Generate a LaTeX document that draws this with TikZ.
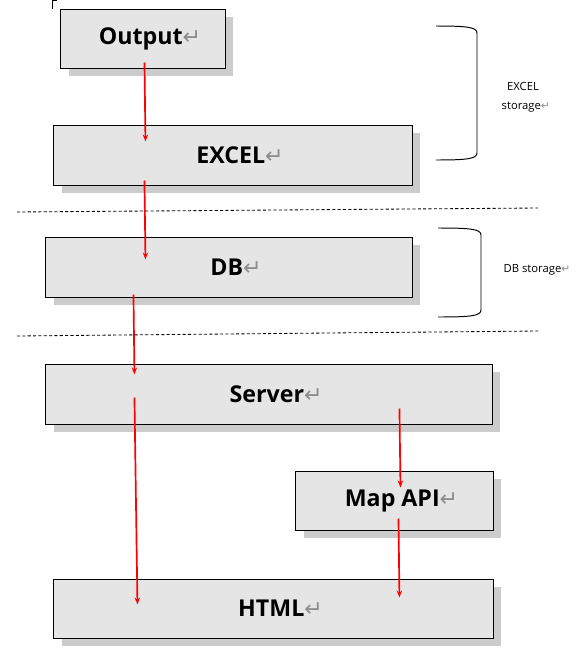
\documentclass[tikz,border=0pt]{standalone}
\usepackage{fontspec}
\setmainfont{Open Sans}
\newfontfamily\retfont{DejaVu Sans}
\usepackage{xcolor}
\usepackage{tikz}
\usetikzlibrary{arrows.meta, calc, shadows}

\newcommand\retmark{{\retfont\mdseries\color{black!45}\scalebox{0.95}{↵}}}

\begin{document}
\begin{tikzpicture}[
  x=0.025cm, y=-0.025cm,
  blk/.style  = {draw, line width=0.7pt, fill=gray!20, align=center,
                 font=\fontsize{16.5}{19}\selectfont\bfseries,
                 execute at begin node={\hspace*{10pt}},
                 drop shadow={shadow xshift=5.5pt, shadow yshift=-5.5pt,
                              fill=black!40}},
  flow/.style = {-{Stealth[length=5pt, width=3.8pt]}, red, line width=1.2pt},
  sep/.style  = {dash pattern=on 2.2pt off 1.6pt, line width=0.6pt},
  brace/.style= {line width=0.7pt},
  note/.style = {font=\fontsize{8}{9.5}\selectfont, align=center}
]
  \useasboundingbox (0,0) rectangle (576,665);

  % storage layers
  \node[blk, minimum width=4.1cm,   minimum height=1.475cm] (out)  at (143,38.5)  {Output\retmark};
  \node[blk, minimum width=8.95cm,  minimum height=1.5cm]   (xls)  at (233,155)   {EXCEL\retmark};
  \node[blk, minimum width=9.15cm,  minimum height=1.5cm]   (db)   at (229,267)   {DB\retmark};
  % service layers
  \node[blk, minimum width=11.15cm, minimum height=1.5cm]   (srv)  at (269,394)   {Server\retmark};
  \node[blk, minimum width=4.925cm, minimum height=1.475cm] (map)  at (394.5,500.5) {Map API\retmark};
  \node[blk, minimum width=10.975cm,minimum height=1.475cm] (html) at (273.5,608.5) {HTML\retmark};

  \draw[flow] ([shift={(84,-6)}]out.south west)   -- ([shift={(92,17)}]xls.north west);
  \draw[flow] ([shift={(91,-5)}]xls.south west)   -- ([shift={(100,23)}]db.north west);
  \draw[flow] ([shift={(88,-3)}]db.south west)    -- ([shift={(89,11)}]srv.north west);
  \draw[flow] ([shift={(89,34)}]srv.north west)   -- ([shift={(84,26)}]html.north west);
  \draw[flow] ([shift={(354,-16)}]srv.south west) -- ([shift={(105,17)}]map.north west);
  \draw[flow] ([shift={(103,-12)}]map.south west) -- ([shift={(346,19)}]html.north west);

  % layer borders
  \draw[sep] (17,212) -- (538,208);
  \draw[sep] (17,336) -- (538,331);

  % brackets
  \draw[brace] (436,26) .. controls (466,26) and (477,27) .. (477,33)
               -- (477,153) .. controls (477,159) and (466,160) .. (436,160);
  \draw[brace] (438,228) .. controls (470,228) and (481,229) .. (481,235)
               -- (481,310) .. controls (481,316) and (470,317) .. (438,317);
  \node[note] (xlsnote) at (523,97) {EXCEL\\[4pt]\hspace*{4pt}storage\retmark};
  \node[note] (dbnote)  at (537,270) {DB storage\retmark};

  \draw[line width=0.5pt] (52.5,9) -- (52.5,0.3) -- (57,0.3);
\end{tikzpicture}
\end{document}
